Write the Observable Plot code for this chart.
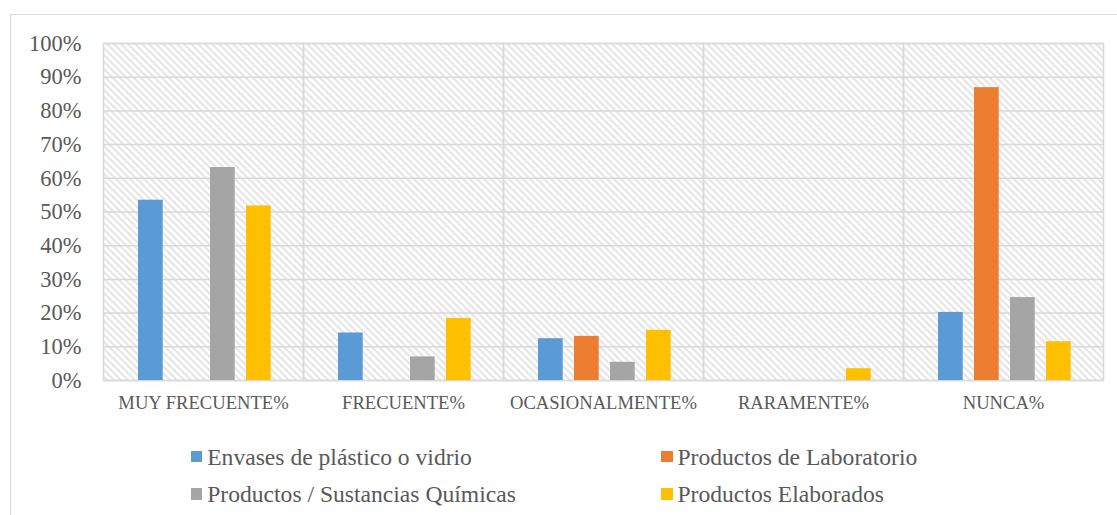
<!DOCTYPE html>
<html>
<head>
<meta charset="utf-8">
<script src="https://cdn.jsdelivr.net/npm/d3@7"></script>
<script src="https://cdn.jsdelivr.net/npm/@observablehq/plot@0.6"></script>
<style>
  html, body { margin: 0; padding: 0; background: #ffffff; }
  #wrap { position: relative; width: 1117px; height: 515px; overflow: hidden; font-family: "Liberation Serif", "Times New Roman", serif; }
  #border { position: absolute; left: 10px; top: 14px; width: 1200px; height: 600px; border-top: 1px solid #d9d9d9; border-left: 1px solid #d9d9d9; }
  #chart { position: absolute; left: 0; top: 0; }
  .item { position: absolute; display: flex; align-items: center; height: 24px; line-height: 24px; font-size: 23.6px; color: #595959; white-space: nowrap; font-family: "Liberation Serif", "Times New Roman", serif; }
  .swatch { width: 11.5px; height: 11.5px; margin-right: 5px; flex: none; }
</style>
</head>
<body>
<div id="wrap">
  <div id="border"></div>
  <div id="chart"></div>
</div>
<script>
// Response categories (x facets) and the four product types (series)
const categories = ["MUY FRECUENTE%", "FRECUENTE%", "OCASIONALMENTE%", "RARAMENTE%", "NUNCA%"];
const series = ["Envases de plástico o vidrio", "Productos de Laboratorio", "Productos / Sustancias Químicas", "Productos Elaborados"];
const colors = ["#5b9bd5", "#ed7d31", "#a5a5a5", "#ffc000"];

// Percentages per category, one array per series
const envases     = [53.5, 14.1, 12.4, 0,   20.2];
const laboratorio = [0,    0,    13.1, 0,   86.9];
const quimicas    = [63.2, 7.0,  5.4,  0,   24.6];
const elaborados  = [51.8, 18.4, 14.9, 3.5, 11.5];

const yTicks = [0, 10, 20, 30, 40, 50, 60, 70, 80, 90, 100];

const valuesBySeries = [envases, laboratorio, quimicas, elaborados];
const rows = [];
series.forEach((s, i) => {
  categories.forEach((c, j) => {
    rows.push({category: c, series: s, value: valuesBySeries[i][j]});
  });
});

const grid = "#d9d9d9";
const textColor = "#595959";
const serif = "Liberation Serif, Times New Roman, serif";

const svg = Plot.plot({
  width: 1117,
  height: 425,
  marginLeft: 103,
  marginRight: 14,
  marginTop: 43,
  marginBottom: 45,
  style: {background: "none", fontFamily: serif},
  fx: {domain: categories, padding: 0, label: null},
  x: {domain: series, paddingInner: 0.314, paddingOuter: 0.935, align: 0.52, round: false, axis: null},
  y: {domain: [0, 100], label: null},
  color: {domain: series, range: colors},
  marks: [
    Plot.frame({fill: "url(#hatch)"}),
    Plot.gridY(yTicks, {stroke: grid, strokeOpacity: 1, strokeWidth: 1.5}),
    Plot.frame({stroke: grid, strokeWidth: 1.5}),
    Plot.barY(rows, {fx: "category", x: "series", y: "value", fill: "series"}),
    Plot.axisY(yTicks, {
      anchor: "left", tickSize: 0, tickPadding: 22, label: null,
      tickFormat: d => d + "%", fontSize: 22.5, fontFamily: serif, fill: textColor
    }),
    Plot.axisFx({
      anchor: "bottom", tickSize: 0, tickPadding: 15, label: null,
      fontSize: 18.6, fontFamily: serif, fill: textColor
    })
  ]
});

// Light diagonal hatch used as the plot-area background
const defs = d3.select(svg).insert("defs", ":first-child");
const pat = defs.append("pattern")
  .attr("id", "hatch")
  .attr("patternUnits", "userSpaceOnUse")
  .attr("width", 7)
  .attr("height", 7);
pat.append("rect").attr("width", 7).attr("height", 7).attr("fill", "#ffffff");
pat.append("path")
  .attr("d", "M-1,-1L8,8M-1,6L1,8M6,-1L8,1")
  .attr("stroke", "#dedede")
  .attr("stroke-width", 1.6);

document.getElementById("chart").appendChild(svg);

// Two-column legend below the chart
const legendPos = [
  {left: 190.7, top: 444.5},
  {left: 661,   top: 444.5},
  {left: 190.7, top: 482},
  {left: 661,   top: 482}
];
const wrap = document.getElementById("wrap");
series.forEach((s, i) => {
  const item = document.createElement("div");
  item.className = "item";
  item.style.left = legendPos[i].left + "px";
  item.style.top = legendPos[i].top + "px";
  const sw = document.createElement("span");
  sw.className = "swatch";
  sw.style.background = colors[i];
  const label = document.createElement("span");
  label.textContent = s;
  item.appendChild(sw);
  item.appendChild(label);
  wrap.appendChild(item);
});
</script>
</body>
</html>
